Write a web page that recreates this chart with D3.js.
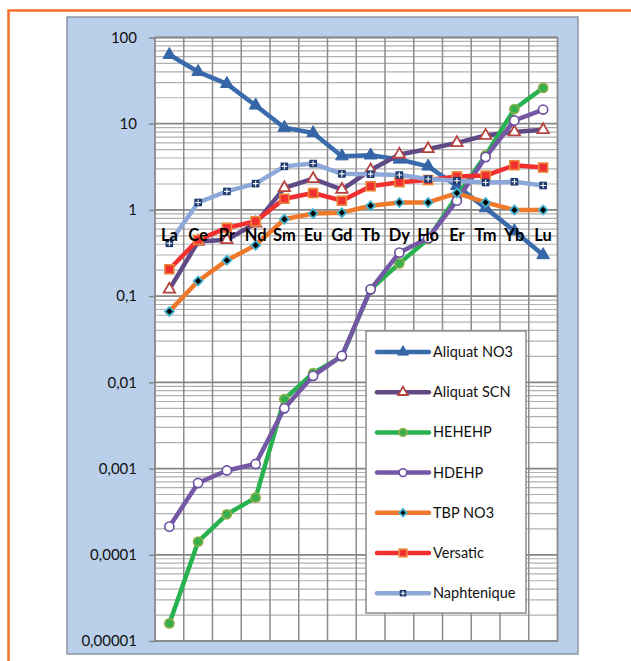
<!DOCTYPE html>
<html>
<head>
<meta charset="utf-8">
<script src="https://cdn.jsdelivr.net/npm/d3@7"></script>
<style>
  html, body { margin: 0; padding: 0; background: #fff; }
  svg { display: block; }
  text { font-family: Lato, "Open Sans", sans-serif; }
</style>
</head>
<body>
<svg id="chart" width="631" height="661"></svg>
<script>
// Distribution coefficients of the lanthanides for several extractants
const categories = ["La","Ce","Pr","Nd","Sm","Eu","Gd","Tb","Dy","Ho","Er","Tm","Yb","Lu"];

const aliquatNO3  = [63, 40, 29, 16.3, 9.0, 7.8, 4.2, 4.3, 3.85, 3.2, 1.9, 1.05, 0.57, 0.30];
const aliquatSCN  = [0.12, 0.43, 0.45, 0.70, 1.8, 2.3, 1.72, 2.9, 4.4, 5.1, 6.0, 7.3, 8.0, 8.5];
const hehehp      = [1.6e-5, 1.42e-4, 2.95e-4, 4.6e-4, 6.4e-3, 0.0128, 0.020, 0.12, 0.24, 0.46, 1.45, 4.3, 14.8, 26];
const hdehp       = [2.12e-4, 6.8e-4, 9.5e-4, 1.13e-3, 5.0e-3, 0.0119, 0.0203, 0.12, 0.32, 0.47, 1.28, 4.1, 10.9, 14.6];
const tbpNO3      = [0.0665, 0.15, 0.26, 0.39, 0.78, 0.91, 0.93, 1.12, 1.22, 1.22, 1.57, 1.22, 1.0, 1.0];
const versatic    = [0.205, 0.45, 0.62, 0.74, 1.35, 1.57, 1.28, 1.88, 2.1, 2.22, 2.45, 2.5, 3.3, 3.1];
const naphtenique = [0.41, 1.22, 1.64, 2.02, 3.2, 3.45, 2.62, 2.6, 2.54, 2.28, 2.18, 2.08, 2.12, 1.92];

const seriesNames = ["Aliquat NO3","Aliquat SCN","HEHEHP","HDEHP","TBP NO3","Versatic","Naphtenique"];
const tickValues = [1e-5, 1e-4, 1e-3, 1e-2, 1e-1, 1, 10, 100];
const tickLabels = ["0,00001","0,0001","0,001","0,01","0,1","1","10","100"];

const series = [
  { name: seriesNames[0], values: aliquatNO3,  line: "#3A6BAD", marker: "triUp",  fill: "#3565A6", stroke: "#3565A6" },
  { name: seriesNames[1], values: aliquatSCN,  line: "#604A86", marker: "triOpen", fill: "#ffffff", stroke: "#B5443F" },
  { name: seriesNames[2], values: hehehp,      line: "#27B24F", marker: "circle", fill: "#36B04F", stroke: "#93AE48" },
  { name: seriesNames[3], values: hdehp,       line: "#7458A6", marker: "circle", fill: "#ffffff", stroke: "#6B4FA0" },
  { name: seriesNames[4], values: tbpNO3,      line: "#F0782A", marker: "diamond", fill: "#000000", stroke: "#45B3CF" },
  { name: seriesNames[5], values: versatic,    line: "#F22F2F", marker: "square", fill: "#F23030", stroke: "#E8893A" },
  { name: seriesNames[6], values: naphtenique, line: "#8DA8D8", marker: "plusSq", fill: "#1F3A6E", stroke: "#1F3A6E" }
];

const svg = d3.select("#chart");

// Outer frame
svg.append("rect").attr("x", 8.5).attr("y", 10.5).attr("width", 640).attr("height", 660)
  .attr("fill", "none").attr("stroke", "#F3702A").attr("stroke-width", 2.5);

// Chart area
svg.append("rect").attr("x", 67).attr("y", 17).attr("width", 511).attr("height", 637)
  .attr("fill", "#B9CFEA").attr("stroke", "#8D97A3").attr("stroke-width", 1.5);

const plot = { left: 155, right: 557.5, top: 37.5, bottom: 641 };

const x = d3.scaleBand().domain(categories).range([plot.left, plot.right]).padding(0);
const y = d3.scaleLog().domain([1e-5, 100]).range([plot.bottom, plot.top]);

svg.append("rect").attr("x", plot.left).attr("y", plot.top)
  .attr("width", plot.right - plot.left).attr("height", plot.bottom - plot.top)
  .attr("fill", "#ffffff");

// Minor horizontal gridlines (2..9 within each decade)
const minor = [];
for (let e = -5; e < 2; e++) for (let m = 2; m <= 9; m++) minor.push(m * Math.pow(10, e));
svg.append("g").selectAll("line").data(minor).join("line")
  .attr("x1", plot.left).attr("x2", plot.right)
  .attr("y1", d => y(d)).attr("y2", d => y(d))
  .attr("stroke", "#B0B0B0").attr("stroke-width", 1.2);

// Vertical gridlines at category boundaries
const bounds = categories.map(c => x(c)).concat([plot.right]);
svg.append("g").selectAll("line").data(bounds).join("line")
  .attr("x1", d => d).attr("x2", d => d)
  .attr("y1", plot.top).attr("y2", plot.bottom)
  .attr("stroke", "#8C8C8C").attr("stroke-width", 1.5);

// Major horizontal gridlines
svg.append("g").selectAll("line").data(tickValues).join("line")
  .attr("x1", plot.left).attr("x2", plot.right)
  .attr("y1", d => y(d)).attr("y2", d => y(d))
  .attr("stroke", "#858585").attr("stroke-width", 1.8);

svg.append("rect").attr("x", plot.left).attr("y", plot.top)
  .attr("width", plot.right - plot.left).attr("height", plot.bottom - plot.top)
  .attr("fill", "none").attr("stroke", "#8C8C8C").attr("stroke-width", 1.5);

// Value axis
const yAxis = d3.axisLeft(y).tickValues(tickValues)
  .tickFormat(d => tickLabels[tickValues.indexOf(d)])
  .tickSize(6).tickSizeOuter(0).tickPadding(12);
const ga = svg.append("g").attr("transform", `translate(${plot.left},0)`).call(yAxis);
ga.select(".domain").remove();
ga.selectAll(".tick line").attr("stroke", "#858585").attr("stroke-width", 1.5);
ga.selectAll(".tick text").attr("fill", "#111").style("font-size", "15px")
  .style("font-family", "Lato, sans-serif");

// Marker drawing
function drawMarker(g, type, fill, stroke, s) {
  s = s || 1;
  if (type === "triUp") {
    g.append("path").attr("d", d3.symbol(d3.symbolTriangle, 70 * s * s)())
      .attr("fill", fill).attr("stroke", stroke).attr("stroke-width", 1);
  } else if (type === "triOpen") {
    g.append("path").attr("d", d3.symbol(d3.symbolTriangle, 56 * s * s)())
      .attr("fill", fill).attr("stroke", stroke).attr("stroke-width", 1.8);
  } else if (type === "circle") {
    g.append("circle").attr("r", 4.6 * s)
      .attr("fill", fill).attr("stroke", stroke).attr("stroke-width", 1.6);
  } else if (type === "diamond") {
    g.append("path").attr("d", d3.symbol(d3.symbolSquare, 40 * s * s)())
      .attr("transform", "rotate(45)")
      .attr("fill", fill).attr("stroke", stroke).attr("stroke-width", 1.8);
  } else if (type === "square") {
    const h = 4.5 * s;
    g.append("rect").attr("x", -h).attr("y", -h).attr("width", 2 * h).attr("height", 2 * h)
      .attr("fill", fill).attr("stroke", stroke).attr("stroke-width", 1.6);
  } else if (type === "plusSq") {
    const h = 3.8 * s;
    g.append("rect").attr("x", -h).attr("y", -h).attr("width", 2 * h).attr("height", 2 * h)
      .attr("fill", fill);
    g.append("path").attr("d", `M${-h + 1},0H${h - 1}M0,${-h + 1}V${h - 1}`)
      .attr("stroke", "#ffffff").attr("stroke-width", 1.1);
  }
}

const cx = c => x(c) + x.bandwidth() / 2;
const lineGen = d3.line().x(d => cx(d.c)).y(d => y(d.v));

series.forEach(s => {
  const pts = categories.map((c, i) => ({ c, v: s.values[i] }));
  const g = svg.append("g").attr("class", "series");
  g.append("path").datum(pts).attr("d", lineGen)
    .attr("fill", "none").attr("stroke", s.line).attr("stroke-width", 4.5)
    .attr("stroke-linejoin", "round").attr("stroke-linecap", "round");
  pts.forEach(p => {
    const mg = g.append("g").attr("transform", `translate(${cx(p.c)},${y(p.v)})`);
    drawMarker(mg, s.marker, s.fill, s.stroke);
  });
});

// Category labels sit just below the axis crossing at 1
svg.append("g").selectAll("text").data(categories).join("text")
  .attr("x", d => cx(d)).attr("y", y(1) + 31.5)
  .attr("text-anchor", "middle")
  .style("font-size", "16.5px").style("font-weight", "bold").attr("fill", "#000")
  .text(d => d);

// Legend
const legend = svg.append("g").attr("transform", "translate(366,331)");
legend.append("rect").attr("width", 160).attr("height", 282)
  .attr("fill", "#ffffff").attr("stroke", "#8C8C8C").attr("stroke-width", 1.5);
series.forEach((s, i) => {
  const row = legend.append("g").attr("transform", `translate(0,${21 + i * 40.2})`);
  row.append("line").attr("x1", 11).attr("x2", 63).attr("y1", 0).attr("y2", 0)
    .attr("stroke", s.line).attr("stroke-width", 4.5).attr("stroke-linecap", "round");
  const mg = row.append("g").attr("transform", "translate(37,0)");
  drawMarker(mg, s.marker, s.fill, s.stroke, 0.85);
  row.append("text").attr("x", 67).attr("y", 0).attr("dy", "0.35em")
    .style("font-size", "14.5px").attr("fill", "#111").text(s.name);
});
</script>
</body>
</html>
